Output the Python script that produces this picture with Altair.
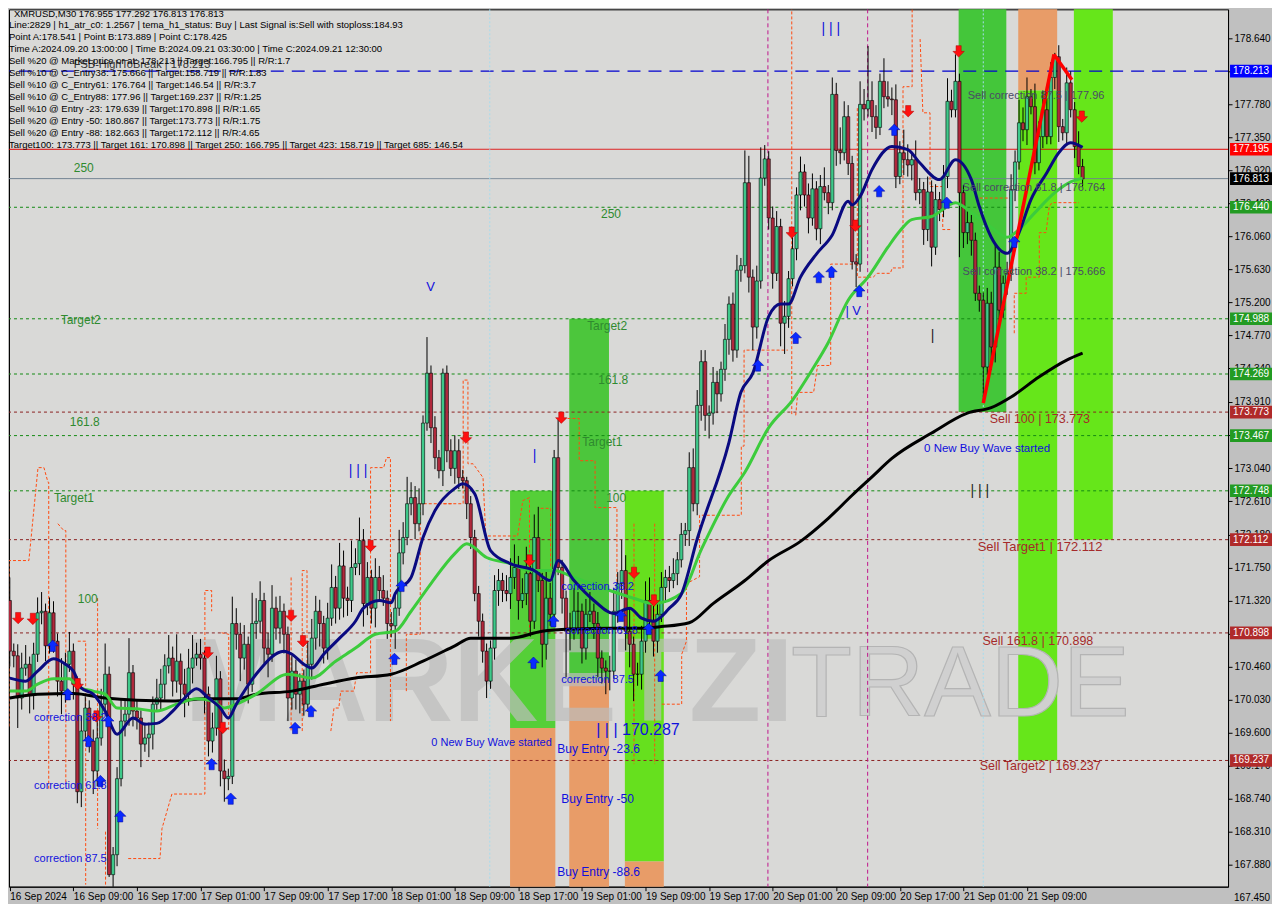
import json
import altair as alt
import pandas as pd

# ---------------- data ----------------
header_lines = [
    "XMRUSD,M30  176.955 177.292 176.813 176.813",
    "Line:2829 | h1_atr_c0: 1.2567 | tema_h1_status: Buy | Last Signal is:Sell with stoploss:184.93",
    "Point A:178.541 | Point B:173.889 | Point C:178.425",
    "Time A:2024.09.20 13:00:00 | Time B:2024.09.21 03:30:00 | Time C:2024.09.21 12:30:00",
    "Sell %20 @ Market price or at: 178.213 || Target:166.795 || R/R:1.7",
    "Sell %10 @ C_Entry38: 175.666 || Target:158.719 || R/R:1.83",
    "Sell %10 @ C_Entry61: 176.764 || Target:146.54 || R/R:3.7",
    "Sell %10 @ C_Entry88: 177.96 || Target:169.237 || R/R:1.25",
    "Sell %10 @ Entry -23: 179.639 || Target:170.898 || R/R:1.65",
    "Sell %20 @ Entry -50: 180.867 || Target:173.773 || R/R:1.75",
    "Sell %20 @ Entry -88: 182.663 || Target:172.112 || R/R:4.65",
    "Target100: 173.773 || Target 161: 170.898 || Target 250: 166.795 || Target 423: 158.719 || Target 685: 146.54",
]

time_labels = ["16 Sep 2024", "16 Sep 09:00", "16 Sep 17:00", "17 Sep 01:00", "17 Sep 09:00",
               "17 Sep 17:00", "18 Sep 01:00", "18 Sep 09:00", "18 Sep 17:00", "19 Sep 01:00",
               "19 Sep 09:00", "19 Sep 17:00", "20 Sep 01:00", "20 Sep 09:00", "20 Sep 17:00",
               "21 Sep 01:00", "21 Sep 09:00"]
time_tick_bars = [0, 16, 32, 48, 64, 80, 96, 112, 128, 144, 160, 176, 192, 208, 224, 240, 256]

price_ticks = [178.640, 178.210, 177.780, 177.350, 176.920, 176.490, 176.060, 175.630,
               175.200, 174.770, 174.340, 173.910, 173.480, 173.040, 172.610, 172.180, 171.750,
               171.320, 170.890, 170.460, 170.030, 169.600, 169.170, 168.740, 168.310, 167.880]
bottom_price_label = 167.450

first_open = 171.32
closes = [
    170.66, 170.60, 170.05, 170.44, 170.49, 170.10, 170.62, 171.16, 171.18, 170.73,
    171.16, 170.79, 170.27, 170.14, 170.49, 170.66, 170.23, 168.83, 169.62, 169.92,
    169.49, 169.10, 169.53, 169.97, 170.36, 167.75, 168.01, 169.00, 169.75, 169.84,
    170.38, 169.88, 169.79, 169.45, 169.53, 169.58, 169.97, 170.05, 170.23, 170.47,
    170.57, 170.27, 170.53, 170.23, 170.10, 170.44, 170.57, 170.62, 170.57, 170.10,
    169.49, 169.66, 170.30, 169.10, 169.00, 169.03, 171.02, 170.88, 170.57, 170.75,
    170.23, 171.02, 171.05, 171.32, 170.70, 170.62, 171.22, 170.96, 171.18, 170.88,
    170.05, 170.40, 170.10, 170.27, 169.97, 170.49, 170.83, 171.18, 171.02, 170.70,
    171.09, 171.49, 171.22, 171.77, 171.35, 171.32, 171.75, 171.80, 172.10, 171.28,
    171.62, 171.22, 171.62, 171.45, 171.35, 171.02, 170.99, 171.22, 171.94, 172.14,
    172.58, 172.66, 172.32, 172.58, 173.63, 174.28, 173.57, 173.18, 173.01, 174.28,
    173.27, 173.04, 173.27, 172.92, 172.88, 172.58, 172.14, 171.41, 171.05, 170.66,
    170.27, 170.70, 171.45, 171.58, 171.45, 171.41, 171.62, 171.75, 171.32, 171.41,
    171.67, 171.05, 172.14, 171.58, 170.75, 171.35, 171.14, 173.18, 171.75, 171.35,
    170.92, 170.96, 171.18, 171.18, 170.70, 171.14, 171.18, 171.02, 170.57, 170.44,
    170.40, 170.40, 171.18, 171.54, 171.71, 170.92, 170.75, 170.36, 170.36, 170.79,
    171.32, 171.05, 170.79, 171.14, 171.49, 171.62, 171.58, 171.67, 171.85, 172.18,
    172.23, 173.05, 172.58, 173.86, 174.43, 173.73, 173.76, 174.16, 174.01, 174.33,
    174.72, 175.18, 174.58, 175.62, 175.68, 176.76, 175.53, 174.88, 175.48, 176.82,
    177.07, 176.30, 175.58, 176.19, 174.93, 175.02, 175.51, 175.90, 176.60, 176.90,
    176.60, 176.30, 176.68, 176.16, 176.71, 176.63, 176.50, 177.91, 177.18, 177.15,
    177.62, 177.01, 175.73, 175.70, 177.78, 177.72, 177.83, 177.62, 177.48, 178.08,
    177.88, 177.85, 177.84, 176.84, 177.15, 177.06, 176.99, 177.06, 176.63, 176.67,
    176.15, 176.64, 175.92, 176.54, 176.41, 176.84, 177.82, 177.71, 178.08, 176.63,
    176.11, 176.24, 176.01, 175.32, 175.23, 174.36, 175.19, 174.62, 175.66, 175.10,
    175.45, 175.58, 176.67, 177.03, 177.54, 177.45, 177.88, 177.75, 177.02, 177.36,
    177.71, 177.36, 178.13, 178.40, 177.49, 177.41, 178.06, 177.71, 177.23, 176.97,
    176.81,
]
upper_wick = [
    0.30, 0.10, 0.15, 0.20, 0.25, 0.10, 0.15, 0.20, 0.25, 0.10,
    0.20, 0.15, 0.10, 0.30, 0.15, 0.25, 0.10, 0.10, 0.20, 0.15,
    0.10, 0.15, 0.30, 0.20, 0.40, 0.10, 0.10, 0.15, 0.30, 0.20,
    0.45, 0.10, 0.15, 0.10, 0.20, 0.15, 0.10, 0.25, 0.20, 0.15,
    0.30, 0.15, 0.35, 0.10, 0.20, 0.25, 0.30, 0.15, 0.20, 0.10,
    0.10, 0.20, 0.30, 0.10, 0.15, 0.10, 0.35, 0.20, 0.15, 0.25,
    0.10, 0.40, 0.30, 0.25, 0.10, 0.20, 0.30, 0.15, 0.20, 0.10,
    0.10, 0.20, 0.15, 0.10, 0.15, 0.30, 0.25, 0.20, 0.15, 0.10,
    0.20, 0.30, 0.15, 0.30, 0.20, 0.15, 0.35, 0.20, 0.30, 0.15,
    0.20, 0.10, 0.25, 0.15, 0.20, 0.10, 0.15, 0.20, 0.30, 0.20,
    0.35, 0.20, 0.15, 0.20, 0.10, 0.47, 0.10, 0.15, 0.10, 0.06,
    0.10, 0.15, 0.20, 0.15, 0.10, 0.05, 0.10, 0.10, 0.10, 0.10,
    0.10, 0.10, 0.20, 0.15, 0.10, 0.20, 0.25, 0.30, 0.15, 0.20,
    0.35, 0.10, 0.30, 0.40, 0.10, 0.35, 0.20, 0.10, 0.49, 0.10,
    0.10, 0.20, 0.30, 0.25, 0.10, 0.20, 0.25, 0.10, 0.15, 0.10,
    0.10, 0.20, 0.30, 0.15, 0.40, 0.20, 0.30, 0.10, 0.15, 0.20,
    0.25, 0.30, 0.20, 0.15, 0.20, 0.10, 0.15, 0.20, 0.10, 0.15,
    0.10, 0.20, 0.25, 0.20, 0.15, 0.15, 0.10, 0.20, 0.15, 0.10,
    0.20, 0.10, 0.15, 0.20, 0.10, 0.42, 0.35, 0.10, 0.20, 0.40,
    0.18, 0.10, 0.15, 0.20, 0.10, 0.20, 0.10, 0.15, 0.10, 0.20,
    0.10, 0.15, 0.20, 0.10, 0.15, 0.25, 0.10, 0.22, 0.15, 0.30,
    0.20, 0.15, 0.10, 0.10, 0.30, 0.20, 0.71, 0.25, 0.15, 0.10,
    0.30, 0.20, 0.15, 0.20, 0.15, 0.30, 0.20, 0.10, 0.25, 0.15,
    0.10, 0.20, 0.15, 0.20, 0.10, 0.15, 0.30, 0.15, 0.35, 0.10,
    0.10, 0.15, 0.10, 0.10, 0.10, 0.10, 0.20, 0.15, 0.30, 0.20,
    0.10, 0.15, 0.20, 0.15, 0.30, 0.20, 0.25, 0.10, 0.30, 0.20,
    0.25, 0.15, 0.20, 0.05, 0.15, 0.10, 0.20, 0.15, 0.10, 0.20,
    0.10,
]
lower_wick = [
    0.20, 0.15, 0.39, 0.15, 0.10, 0.25, 0.20, 0.10, 0.15, 0.20,
    0.10, 0.15, 0.20, 0.30, 0.15, 0.10, 0.20, 0.15, 0.20, 0.10,
    0.15, 0.30, 0.20, 0.10, 0.15, 0.03, 0.20, 0.15, 0.10, 0.20,
    0.15, 0.20, 0.15, 0.30, 0.10, 0.25, 0.20, 0.10, 0.15, 0.20,
    0.10, 0.20, 0.15, 0.25, 0.30, 0.15, 0.20, 0.10, 0.15, 0.25,
    0.20, 0.15, 0.10, 0.20, 0.30, 0.15, 0.10, 0.20, 0.30, 0.15,
    0.25, 0.10, 0.20, 0.15, 0.20, 0.30, 0.10, 0.15, 0.20, 0.25,
    0.30, 0.15, 0.20, 0.25, 0.15, 0.10, 0.20, 0.15, 0.30, 0.20,
    0.15, 0.10, 0.20, 0.15, 0.25, 0.20, 0.15, 0.10, 0.15, 0.30,
    0.15, 0.20, 0.25, 0.15, 0.10, 0.20, 0.15, 0.30, 0.10, 0.15,
    0.10, 0.15, 0.20, 0.10, 0.15, 0.10, 0.20, 0.15, 0.10, 0.20,
    0.15, 0.10, 0.20, 0.15, 0.10, 0.20, 0.15, 0.10, 0.20, 0.15,
    0.22, 0.10, 0.15, 0.20, 0.15, 0.10, 0.20, 0.15, 0.25, 0.10,
    0.15, 0.20, 0.10, 0.15, 0.30, 0.20, 0.15, 0.10, 0.10, 0.20,
    0.60, 0.25, 0.15, 0.30, 0.20, 0.15, 0.10, 0.20, 0.25, 0.20,
    0.30, 0.25, 0.10, 0.15, 0.20, 0.25, 0.30, 0.35, 0.15, 0.20,
    0.15, 0.10, 0.20, 0.15, 0.10, 0.20, 0.15, 0.10, 0.15, 0.10,
    0.15, 0.20, 0.10, 0.15, 0.20, 0.20, 0.30, 0.15, 0.25, 0.10,
    0.15, 0.20, 0.15, 0.10, 0.15, 0.10, 0.20, 0.30, 0.15, 0.10,
    0.10, 0.15, 0.20, 0.10, 0.30, 0.40, 0.15, 0.10, 0.15, 0.20,
    0.15, 0.20, 0.10, 0.15, 0.20, 0.10, 0.15, 0.10, 0.20, 0.15,
    0.10, 0.15, 0.10, 0.30, 0.10, 0.15, 0.10, 0.20, 0.15, 0.10,
    0.15, 0.10, 0.20, 0.15, 0.10, 0.20, 0.15, 0.20, 0.10, 0.15,
    0.20, 0.15, 0.25, 0.10, 0.15, 0.10, 0.15, 0.10, 0.10, 0.84,
    0.20, 0.15, 0.20, 0.10, 0.15, 0.45, 0.10, 0.30, 0.20, 0.15,
    0.10, 0.15, 0.10, 0.15, 0.10, 0.15, 0.20, 0.10, 0.15, 0.10,
    0.15, 0.10, 0.10, 0.15, 0.20, 0.10, 0.15, 0.10, 0.15, 0.10,
    0.10,
]

blue_bars = [0, 4, 7, 11, 14, 16, 18, 21, 24, 27, 31, 34, 37, 41, 44, 47, 50, 53, 55, 57,
             62, 69, 71, 74, 76, 79, 83, 87, 89, 93, 96, 97, 101, 104, 107, 112, 114, 117, 121, 126,
             132, 136, 138, 142, 147, 152, 156, 159, 162, 166, 169, 173, 181, 184, 187, 191, 194, 196, 199, 203,
             207, 211, 212, 214, 217, 222, 226, 229, 234, 238, 242, 244, 247, 251, 254, 257, 261, 264, 267, 270]
blue_vals = [170.31, 170.27, 170.40, 170.56, 170.49, 170.40, 170.18, 170.10, 169.88, 169.58,
             169.79, 169.71, 169.72, 169.88, 170.05, 170.17, 170.05, 169.92, 169.79, 169.97,
             170.36, 170.66, 170.62, 170.49, 170.44, 170.62, 170.83, 171.05, 171.22, 171.32,
             171.29, 171.41, 171.62, 172.14, 172.49, 172.78, 172.84, 172.71, 171.97, 171.80,
             171.71, 171.58, 171.84, 171.58, 171.32, 171.15, 171.22, 171.09, 171.05, 171.22,
             171.40, 172.12, 173.38, 174.03, 174.28, 175.02, 175.18, 175.18, 175.53, 175.83,
             176.08, 176.52, 176.47, 176.58, 176.93, 177.23, 177.19, 177.02, 176.80, 177.06,
             176.80, 176.45, 176.05, 175.84, 176.11, 176.54, 176.89, 177.15, 177.28, 177.22]

green_bars = [0, 4, 7, 11, 15, 17, 21, 24, 27, 32, 37, 42, 47, 51, 54, 57, 62, 70, 76, 82,
              87, 92, 97, 101, 106, 112, 115, 120, 126, 131, 137, 142, 151, 157, 162, 169, 174, 181, 185, 191,
              197, 202, 206, 211, 216, 221, 224, 227, 232, 238, 242, 247, 251, 254, 258, 263, 267, 270]
green_vals = [170.14, 170.14, 170.23, 170.30, 170.30, 170.20, 170.14, 170.10, 169.92, 169.91,
              169.88, 169.97, 170.04, 170.01, 169.92, 169.97, 170.10, 170.36, 170.31, 170.53,
              170.70, 170.88, 170.92, 171.18, 171.54, 171.93, 172.06, 171.88, 171.80, 171.71,
              171.71, 171.62, 171.45, 171.35, 171.28, 171.41, 171.98, 172.69, 172.99, 173.57,
              173.93, 174.33, 174.68, 175.23, 175.53, 175.92, 176.13, 176.28, 176.32, 176.50,
              176.37, 176.18, 176.05, 176.15, 176.37, 176.63, 176.77, 176.82]

black_bars = [0, 7, 16, 24, 32, 41, 49, 57, 62, 71, 79, 87, 96, 104, 112, 116, 126, 134, 142, 151,
              159, 164, 171, 177, 185, 191, 199, 206, 212, 217, 222, 232, 241, 247, 252, 259, 266, 270]
black_vals = [170.05, 170.10, 170.11, 170.05, 170.02, 170.01, 170.04, 170.04, 170.10, 170.14,
              170.23, 170.31, 170.36, 170.53, 170.73, 170.83, 170.83, 170.92, 170.95, 170.96,
              170.96, 170.98, 171.03, 171.28, 171.58, 171.84, 172.09, 172.39, 172.69, 172.93,
              173.17, 173.50, 173.76, 173.83, 173.97, 174.23, 174.45, 174.54]

# stepped orange trailing line (pieces)
orange_seg = (["A"] * 8 + ["B"] * 4 + ["C"] * 3 + ["D"] * 2 + ["E"] * 2 + ["F"] * 8 + ["G"] * 3 + ["H"] * 2
              + ["I"] * 4 + ["J"] * 13 + ["K"] * 5 + ["L"] * 12 + ["M"] * 3 + ["N"] * 7 + ["O1"] * 2 + ["O2"] * 2
              + ["P"] * 12 + ["Q"] * 2 + ["R"] * 7 + ["S"] * 10 + ["T"] * 7 + ["U"] * 2 + ["V"] * 10)
orange_bar = [-0.2, -0.2, 4.8, 7.1, 8.6, 9.6, 9.8, 9.8,
              12.1, 13.6, 14.1, 14.1,
              17.1, 19.1, 19.1,
              22.1, 22.1,
              24.1, 24.1,
              29.8, 37.8, 38.3, 40.8, 49.1, 49.1, 50.8, 50.8,
              53.3, 55.1, 55.1,
              70.8, 70.8,
              73.6, 73.6, 74.8, 74.8,
              80.8, 81.6, 82.8, 83.3, 86.6, 87.3, 89.8, 90.8, 90.8, 94.1, 94.8, 95.8, 95.8,
              99.8, 99.8, 103.3, 103.3, 111.6,
              109.1, 114.1, 114.1, 115.3, 115.3, 116.6, 119.1, 119.8, 127.8, 129.1, 130.8, 130.8,
              133.6, 136.1, 136.1,
              139.1, 143.3, 143.3, 147.3, 147.3, 152.8, 152.8,
              157.1, 157.1,
              162.3, 162.3,
              164.1, 169.1, 169.1, 170.3, 170.3, 173.6, 173.6, 184.1, 184.1, 184.8, 184.8, 195.8,
              196.8, 196.8,
              197.8, 198.3, 202.3, 203.3, 206.6, 206.6, 212.8,
              213.3, 213.3, 217.3, 218.3, 221.6, 222.1, 224.8, 224.8, 227.1, 227.1,
              229.1, 229.8, 231.6, 231.6, 234.8, 234.8, 237.1,
              244.1, 252.3,
              252.8, 252.8, 255.8, 255.8, 259.1, 259.1, 260.8, 261.6, 262.3, 269.1]
orange_price = [169.68, 171.84, 171.84, 173.05, 173.05, 172.86, 172.86, 168.87,
                172.32, 172.23, 172.23, 168.93,
                170.79, 170.79, 167.62,
                171.35, 168.35,
                168.31, 167.42,
                167.96, 167.96, 168.35, 168.80, 168.80, 171.45, 171.45, 171.18,
                170.90, 170.88, 169.62,
                171.62, 169.62,
                169.62, 171.71, 171.71, 170.49,
                169.62, 169.92, 169.92, 170.14, 170.14, 170.38, 170.38, 170.38, 173.05, 173.05, 173.18, 173.18, 169.75,
                170.14, 170.88, 170.88, 172.58, 172.58,
                172.58, 172.58, 174.19, 174.19, 173.10, 173.10, 172.92, 172.16, 172.16, 172.62, 172.66, 170.92,
                172.52, 172.52, 171.75,
                173.69, 173.69, 173.14, 173.14, 172.53, 172.53, 171.35,
                172.32, 169.19,
                172.32, 169.19,
                169.97, 169.97, 170.62, 170.79, 171.54, 171.63, 172.43, 172.43, 173.33, 173.33, 174.58, 174.58,
                179.12, 173.73,
                173.73, 174.03, 174.03, 174.38, 174.38, 175.70, 175.70,
                177.73, 175.53, 175.53, 175.58, 175.58, 175.65, 175.65, 178.01, 178.01, 179.12,
                178.63, 177.67, 177.67, 176.71, 176.71, 176.15, 176.15,
                176.56, 176.56,
                174.80, 175.32, 175.32, 175.53, 175.53, 176.11, 176.11, 176.45, 176.50, 176.50]

# horizontal levels
level_prices = [178.213, 177.195, 176.813, 176.440, 174.988, 174.269, 173.773, 173.467, 172.748, 172.112, 170.898, 169.237]
level_kinds = ["blue", "red", "gray", "green", "green", "green", "brown", "green", "green", "brown", "brown", "brown"]

# zones (bar range, price range)
zone_x0 = [125.9, 125.9, 140.8, 140.8, 154.8, 154.8, 238.8, 253.8, 253.8, 267.8]
zone_x1 = [137.3, 137.3, 150.8, 150.8, 164.6, 164.6, 250.8, 263.6, 263.6, 277.6]
zone_lo = [169.66, 167.41, 170.287, 167.41, 167.92, 167.41, 173.773, 177.96, 169.237, 172.112]
zone_hi = [172.748, 169.66, 174.988, 170.287, 172.748, 167.92, 179.15, 179.15, 177.96, 179.15]
zone_col = ["#55cf38", "#e89c68", "#4cc63c", "#e89c68", "#66e01e", "#e89c68", "#44c63a", "#e89c68", "#66e61a", "#66e61a"]

# arrows
down_bars = [2.1, 5.8, 17.1, 21.8, 49.8, 53.6, 70.8, 73.8, 90.8, 114.8, 130.8, 138.8, 157.1, 162.1, 196.8, 212.8, 226.1, 238.8, 269.8]
down_prices = [171.09, 171.08, 170.23, 169.81, 170.64, 169.66, 171.12, 170.79, 172.03, 173.44, 171.84, 173.70, 171.68, 171.32, 176.11, 176.20, 177.69, 178.47, 177.62]
up_bars = [10.8, 14.6, 19.8, 24.8, 22.8, 27.8, 50.8, 55.6, 71.8, 75.8, 96.8, 98.6, 131.8, 136.8, 153.8, 160.8, 163.8,
           188.3, 197.8, 203.6, 206.8, 213.8, 218.8, 222.6, 235.8, 252.8]
up_prices = [170.73, 170.10, 169.49, 169.75, 168.97, 168.51, 169.19, 168.74, 169.66, 169.88, 170.56, 171.51, 170.51, 171.05, 171.12, 170.95, 170.34,
             174.38, 174.74, 175.53, 175.60, 175.35, 176.65, 177.45, 176.50, 175.99]

# annotations
ann_text = ["250", "Target2", "161.8", "Target1", "100",
            "250", "Target2", "161.8", "Target1", "100",
            "Sell correction 87.5 | 177.96", "Sell correction 61.8 | 176.764", "Sell correction 38.2 | 175.666",
            "Sell 100 | 173.773", "0 New Buy Wave started", "Sell Target1 | 172.112", "Sell 161.8 | 170.898", "Sell Target2 | 169.237",
            "correction 38.2", "correction 61.8", "correction 87.5", "0 New Buy Wave started",
            "Buy Entry -23.6", "Buy Entry -50", "Buy Entry -88.6",
            "correction 38.2", "correction 61.8", "correction 87.5",
            "FSB-HighToBreak | 178.213"]
ann_bar = [16.1, 12.8, 15.1, 11.1, 17.1,
           148.8, 145.3, 148.1, 144.1, 150.1,
           241.1, 239.8, 239.8,
           246.6, 230.1, 243.6, 244.8, 244.1,
           138.8, 139.8, 138.8, 106.1,
           137.8, 138.8, 137.8,
           6.1, 6.1, 6.1,
           16.1]
ann_price = [176.95, 174.97, 173.65, 172.65, 171.34,
             176.35, 174.90, 174.19, 173.38, 172.66,
             177.89, 176.69, 175.60,
             173.68, 173.29, 172.01, 170.79, 169.16,
             171.50, 170.92, 170.28, 169.46,
             169.38, 168.74, 167.79,
             169.79, 168.90, 167.95,
             178.29]
ann_color = ["#2f8a2f"] * 10 + ["#4a4a66"] * 3 + ["#a52a2a", "#1010dd", "#a52a2a", "#a52a2a", "#a52a2a"] + ["#1010dd"] * 7 + ["#1010dd"] * 3 + ["#333333"]
ann_size = [12] * 10 + [11] * 3 + [12.5, 11.5, 13, 12.5, 12.5] + [11] * 4 + [12] * 3 + [11] * 3 + [11]

mark_text_items = ["| | |", "| | |", "| | |", "V", "|  V", "|", "|", "| | |  170.287"]
mark_text_bar = [85.3, 204.3, 241.8, 104.8, 210.3, 131.6, 231.8, 147.6]
mark_text_price = [173.01, 178.76, 172.74, 175.40, 175.09, 173.20, 174.76, 169.64]
mark_text_color = ["#1010dd", "#1010dd", "#222222", "#1010dd", "#1010dd", "#1010dd", "#222222", "#1010dd"]
mark_text_size = [14, 14, 14, 13, 13, 14, 14, 16]

# ---------------- chart ----------------
W, H = 1220, 878
FONT = "Liberation Sans"
xs = alt.Scale(domain=[-0.2, 306.6], nice=False, zero=False, padding=0)
ys = alt.Scale(domain=[167.594, 179.017], nice=False, zero=False, padding=0)

label_expr = json.dumps(time_labels) + "[round(datum.value/16)]"
AX = alt.Axis(values=time_tick_bars, labelExpr=label_expr, title=None, grid=False, labelAlign="left",
              labelPadding=1, tickSize=4, labelFontSize=10, labelFont=FONT, labelColor="black",
              domainColor="black", tickColor="black", labelOverlap=False, labelFlush=False)
AY = alt.Axis(orient="right", values=price_ticks, format=".3f", title=None, grid=False, tickSize=4,
              labelPadding=2, labelFontSize=10, labelFont=FONT, labelColor="black", domainColor="black",
              tickColor="black", labelOverlap=False, labelFlush=False)

def X(field):
    return alt.X(field, type="quantitative", scale=xs, axis=AX, title=None)

def Y(field):
    return alt.Y(field, type="quantitative", scale=ys, axis=AY, title=None)

opens = [first_open] + closes[:-1]
candles = pd.DataFrame({
    "bar": list(range(len(closes))),
    "open": opens,
    "close": closes,
    "high": [max(o, c) + u for o, c, u in zip(opens, closes, upper_wick)],
    "low": [min(o, c) - l for o, c, l in zip(opens, closes, lower_wick)],
})
candles["dir"] = ["up" if c >= o else "down" for o, c in zip(opens, closes)]

zones = pd.DataFrame({"x0": zone_x0, "x1": zone_x1, "lo": zone_lo, "hi": zone_hi, "col": zone_col})
zone_layer = alt.Chart(zones).mark_rect(clip=True).encode(
    x=X("x0"), x2="x1:Q", y=Y("lo"), y2="hi:Q", color=alt.Color("col:N", scale=None))

wm = pd.DataFrame({"t": ["MARKETZI", "TRADE"], "bar": [44.0, 196.6], "price": [170.21, 170.21]})
wm_bold = alt.Chart(wm.iloc[[0]]).mark_text(align="left", baseline="middle", font=FONT, fontWeight="bold",
                                            color="#bdbdbd", opacity=0.7, fontSize=118).encode(
    x=X("bar"), y=Y("price"), text="t:N")
wm_light = alt.Chart(wm.iloc[[1]]).mark_text(align="left", baseline="middle", font=FONT,
                                             fill="#d0d0d0", stroke="#b4b4b4", strokeWidth=1.2,
                                             fontSize=100).encode(
    x=X("bar"), y=Y("price"), text="t:N")

levels = pd.DataFrame({"price": level_prices, "kind": level_kinds})
def level_layer(kind, color, dash, width=1):
    return alt.Chart(levels[levels.kind == kind]).mark_rule(color=color, strokeDash=dash, strokeWidth=width).encode(
        y=Y("price"))
lv_green = level_layer("green", "#138a13", [3, 3])
lv_brown = level_layer("brown", "#8b2020", [3, 3])
lv_blue = level_layer("blue", "#0000d0", [13, 8], 1.2)
lv_red = level_layer("red", "#e00000", [1, 0])
lv_gray = level_layer("gray", "#6e8090", [1, 0])

vlines = pd.DataFrame({"bar": [190.8, 215.9, 120.8, 245.0], "kind": ["m", "m", "c", "c"]})
v_mag = alt.Chart(vlines[vlines.kind == "m"]).mark_rule(color="#c0168c", strokeDash=[4, 3], strokeWidth=1).encode(
    x=X("bar"))
v_cyan = alt.Chart(vlines[vlines.kind == "c"]).mark_rule(color="#a6dcee", strokeDash=[2, 2], strokeWidth=1).encode(
    x=X("bar"))

orange = pd.DataFrame({"seg": orange_seg, "bar": orange_bar, "price": orange_price})
orange["i"] = list(range(len(orange)))
orange_layer = alt.Chart(orange).mark_line(color="#ff4a10", strokeDash=[3, 2], strokeWidth=1, clip=True).encode(
    x=X("bar"), y=Y("price"), detail="seg:N", order=alt.Order("i:Q"))

wicks = alt.Chart(candles).mark_rule(color="black", strokeWidth=1, clip=True).encode(
    x=X("bar"), y=Y("low"), y2="high:Q")
bodies = alt.Chart(candles).mark_bar(size=3.2, stroke="black", strokeWidth=0.6, clip=True).encode(
    x=X("bar"), y=Y("open"), y2="close:Q",
    color=alt.Color("dir:N", scale=alt.Scale(domain=["up", "down"], range=["#3ec98a", "#b0283c"]), legend=None))

def ma_layer(bars, vals, color, width):
    df = pd.DataFrame({"bar": bars, "v": vals})
    return alt.Chart(df).mark_line(color=color, strokeWidth=width, interpolate="monotone", clip=True).encode(
        x=X("bar"), y=Y("v"))
ma_black = ma_layer(black_bars, black_vals, "#000000", 3)
ma_green = ma_layer(green_bars, green_vals, "#3ccc3c", 3)
ma_blue = ma_layer(blue_bars, blue_vals, "#0a0a80", 3)

trend = pd.DataFrame({"seg": ["bc", "bc", "cd", "cd"], "bar": [245.0, 262.8, 262.8, 267.3],
                      "price": [173.889, 178.43, 178.43, 178.10]})
trend_layer = alt.Chart(trend).mark_line(color="#ff0000", strokeWidth=3.5, clip=True).encode(
    x=X("bar"), y=Y("price"), detail="seg:N")

DOWN = "M-0.45,-1L0.45,-1L0.45,0L1,0L0,1L-1,0L-0.45,0Z"
UP = "M-0.45,1L0.45,1L0.45,0L1,0L0,-1L-1,0L-0.45,0Z"
down_df = pd.DataFrame({"bar": down_bars, "price": down_prices})
up_df = pd.DataFrame({"bar": up_bars, "price": up_prices})
down_layer = alt.Chart(down_df).mark_point(shape=DOWN, filled=True, color="#ff1010", size=130, opacity=1,
                                           stroke="#aa0000", strokeWidth=0.5).encode(
    x=X("bar"), y=Y("price"))
up_layer = alt.Chart(up_df).mark_point(shape=UP, filled=True, color="#0a2aff", size=130, opacity=1,
                                       stroke="#000099", strokeWidth=0.5).encode(
    x=X("bar"), y=Y("price"))

ann = pd.DataFrame({"t": ann_text, "bar": ann_bar, "price": ann_price, "c": ann_color, "s": ann_size})
ann_layer = alt.Chart(ann).mark_text(align="left", baseline="middle", font=FONT).encode(
    x=X("bar"), y=Y("price"),
    text="t:N", color=alt.Color("c:N", scale=None), size=alt.Size("s:Q", scale=None))

mt = pd.DataFrame({"t": mark_text_items, "bar": mark_text_bar, "price": mark_text_price,
                   "c": mark_text_color, "s": mark_text_size})
mt_layer = alt.Chart(mt).mark_text(align="left", baseline="middle", font=FONT).encode(
    x=X("bar"), y=Y("price"),
    text="t:N", color=alt.Color("c:N", scale=None), size=alt.Size("s:Q", scale=None))

hdr_x = [5] + [0] * 11
hdr_y = [5, 16, 27.5, 39.5, 51.5, 63.5, 75.5, 87.5, 99.5, 111.5, 123.5, 135.5]
hdr_layers = []
for line, hx, hy in zip(header_lines, hdr_x, hdr_y):
    hdr_layers.append(
        alt.Chart(pd.DataFrame({"t": [line]})).mark_text(align="left", baseline="middle", font=FONT,
                                                         fontSize=9.5, color="black").encode(
            x=alt.value(hx), y=alt.value(hy), text="t:N"))

box_colors = {"blue": "#0000ff", "red": "#ff0000", "gray": "#000000", "green": "#239b23", "brown": "#b02a2a"}
boxes = pd.DataFrame({"price": level_prices,
                      "bg": [box_colors[k] for k in level_kinds],
                      "lbl": [f"{p:.3f}" for p in level_prices]})
BOX = "M-1,-0.3L1,-0.3L1,0.3L-1,0.3Z"
box_layer = alt.Chart(boxes).mark_point(shape=BOX, filled=True, size=42 * 42, opacity=1, strokeWidth=0).encode(
    x=alt.value(W + 23), y=Y("price"), color=alt.Color("bg:N", scale=None))
box_text = alt.Chart(boxes).mark_text(align="left", baseline="middle", font=FONT, fontSize=10, color="white").encode(
    x=alt.value(W + 5), y=Y("price"), text="lbl:N")

bottom_lbl = alt.Chart(pd.DataFrame({"price": [bottom_price_label],
                                     "lbl": [f"{bottom_price_label:.3f}"]})).mark_text(
    align="left", baseline="middle", font=FONT, fontSize=10, color="black").encode(
    x=alt.value(W + 6), y=Y("price"), text="lbl:N")

chart = alt.layer(
    zone_layer, wm_bold, wm_light,
    lv_green, lv_brown, lv_blue, lv_red, lv_gray, v_mag, v_cyan, orange_layer,
    wicks, bodies, ma_black, ma_green, ma_blue, trend_layer,
    down_layer, up_layer, ann_layer, mt_layer, *hdr_layers, box_layer, box_text, bottom_lbl,
).properties(
    width=W, height=H, background="#c0c0c0",
    padding={"left": 0, "top": 0, "right": 0, "bottom": 0},
).configure_view(fill="#d9d9d7", stroke="black", strokeWidth=1).configure_axis(labelFont=FONT)

chart.save("out.html", embed_options={"renderer": "svg", "actions": False})
